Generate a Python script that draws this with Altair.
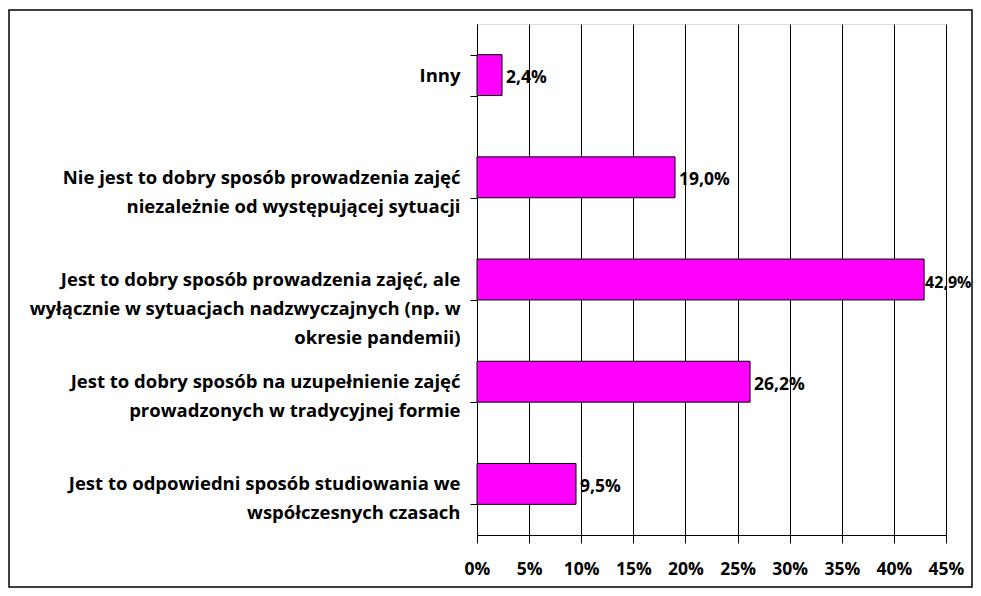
import altair as alt
import pandas as pd

categories = [
    "Inny",
    "Nie jest to dobry sposób prowadzenia zajęć|niezależnie od występującej sytuacji",
    "Jest to dobry sposób prowadzenia zajęć, ale|wyłącznie w sytuacjach nadzwyczajnych (np. w|okresie pandemii)",
    "Jest to dobry sposób na uzupełnienie zajęć|prowadzonych w tradycyjnej formie",
    "Jest to odpowiedni sposób studiowania we|współczesnych czasach",
]
values = [2.4, 19.0, 42.9, 26.2, 9.5]
x_ticks = [0, 5, 10, 15, 20, 25, 30, 35, 40, 45]

df = pd.DataFrame({"cat": categories, "val": values})

FONT = "Open Sans"
FS = 17.5
FS_Y = 18.5

base = alt.Chart(df).transform_calculate(
    lbl="replace(format(datum.val, '.1f'), '.', ',') + '%'"
)

y_enc = alt.Y(
    "cat:N",
    sort=categories,
    scale=alt.Scale(paddingInner=0.6, paddingOuter=0.3),
    axis=alt.Axis(
        title=None,
        labelExpr="split(datum.label, '|')",
        labelAlign="right",
        labelBaseline="middle",
        labelLineHeight=29,
        labelLimit=0,
        labelPadding=10,
        labelFont=FONT,
        labelFontSize=FS_Y,
        labelFontWeight="bold",
        labelColor="black",
        tickBand="extent",
        tickSize=7,
        tickColor="black",
        domainColor="black",
        grid=False,
    ),
)

x_enc = alt.X(
    "val:Q",
    scale=alt.Scale(domain=[0, 45], nice=False, zero=True),
    axis=alt.Axis(
        title=None,
        values=x_ticks,
        labelExpr="datum.value + '%'",
        grid=True,
        gridColor="black",
        gridOpacity=1,
        domainColor="black",
        tickColor="black",
        tickSize=8,
        labelPadding=17,
        labelFont=FONT,
        labelFontSize=FS,
        labelFontWeight="bold",
        labelColor="black",
        labelFlush=False,
    ),
)

bars = base.mark_bar(color="#FF00FF", stroke="black", strokeWidth=1).encode(
    x=x_enc, y=y_enc
)

texts = base.mark_text(
    align="left", baseline="middle", dy=3,
    dx=alt.expr("datum.val > 40 ? 1 : 4"),
    fontSize=alt.expr("datum.val > 40 ? 16 : 17.5"),
    font=FONT, fontWeight="bold", color="black",
).encode(x="val:Q", y=alt.Y("cat:N", sort=categories), text="lbl:N")

frame = alt.Chart(pd.DataFrame({"a": [0]})).mark_rect(
    fill=None, stroke="black", strokeWidth=1.5
).encode(
    x=alt.value(-468), x2=alt.value(495), y=alt.value(-14), y2=alt.value(563)
)

chart = alt.layer(bars, texts, frame).properties(
    width=469,
    height=511,
    autosize=alt.AutoSizeParams(type="none"),
    padding={"left": 469, "top": 16, "right": 27, "bottom": 53},
).configure_view(stroke=None).configure(background="white")

chart.save("out.html", embed_options={"renderer": "svg", "actions": False})
